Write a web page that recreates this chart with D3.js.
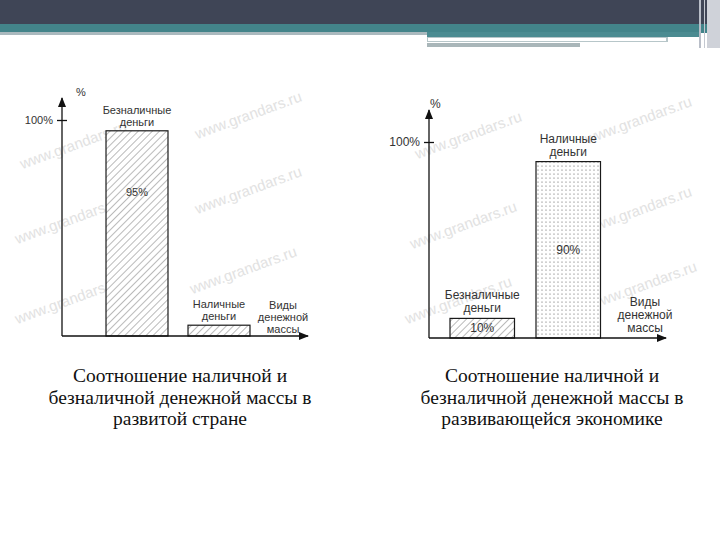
<!DOCTYPE html>
<html>
<head>
<meta charset="utf-8">
<script src="https://cdn.jsdelivr.net/npm/d3@7"></script>
<style>
  body { margin: 0; background: #fff; }
  svg { display: block; }
</style>
</head>
<body>
<script>
// data
const leftCategories = ['Безналичные деньги', 'Наличные деньги'];
const leftValues = [95, 5];
const leftValueLabels = ['95%', ''];
const rightCategories = ['Безналичные деньги', 'Наличные деньги'];
const rightValues = [10, 90];
const rightValueLabels = ['10%', '90%'];
const rightFills = ['hatch', 'dots'];
const yTicks = [100];
const xAxisTitle = ['Виды', 'денежной', 'массы'];
const leftCaption = ['Соотношение наличной и', 'безналичной денежной массы в', 'развитой стране'];
const rightCaption = ['Соотношение наличной и', 'безналичной денежной массы в', 'развивающейся экономике'];
const watermark = 'www.grandars.ru';

const width = 720, height = 540;
const svg = d3.select('body').append('svg')
    .attr('width', width)
    .attr('height', height);

const defs = svg.append('defs');
defs.append('pattern')
    .attr('id', 'hatch')
    .attr('patternUnits', 'userSpaceOnUse')
    .attr('width', 5).attr('height', 5)
    .attr('patternTransform', 'rotate(45)')
  .call(p => {
      p.append('rect').attr('width', 5).attr('height', 5).attr('fill', '#fff');
      p.append('line').attr('x1', 0).attr('y1', 0).attr('x2', 0).attr('y2', 5)
        .attr('stroke', '#666').attr('stroke-width', 0.9);
  });
defs.append('pattern')
    .attr('id', 'dots')
    .attr('patternUnits', 'userSpaceOnUse')
    .attr('width', 4).attr('height', 4)
  .call(p => {
      p.append('rect').attr('width', 4).attr('height', 4).attr('fill', '#fff');
      p.append('circle').attr('cx', 2).attr('cy', 2).attr('r', 0.6).attr('fill', '#555');
  });
defs.append('marker')
    .attr('id', 'arrow')
    .attr('viewBox', '0 0 10 8')
    .attr('refX', 9).attr('refY', 4)
    .attr('markerWidth', 10).attr('markerHeight', 8)
    .attr('markerUnits', 'userSpaceOnUse')
    .attr('orient', 'auto')
  .append('path')
    .attr('d', 'M0,0L10,4L0,8Z')
    .attr('fill', '#111');

// header bands
const header = svg.append('g');
header.append('rect').attr('x', 0).attr('y', 0).attr('width', 720).attr('height', 24).attr('fill', '#3f4556');
header.append('rect').attr('x', 0).attr('y', 24).attr('width', 720).attr('height', 9).attr('fill', '#43848a');
header.append('rect').attr('x', 0).attr('y', 32).attr('width', 427).attr('height', 3).attr('fill', '#aab9be');
header.append('rect').attr('x', 427).attr('y', 32).attr('width', 272).attr('height', 5).attr('fill', '#4b8b91');
header.append('rect').attr('x', 427).attr('y', 37).attr('width', 241).attr('height', 5).attr('fill', '#b7c6c9');
header.append('rect').attr('x', 428).attr('y', 38).attr('width', 238).attr('height', 3).attr('fill', '#fff');
header.append('rect').attr('x', 427).attr('y', 43).attr('width', 153).attr('height', 4).attr('fill', '#a9b6b9');
header.append('rect').attr('x', 699).attr('y', 0).attr('width', 2).attr('height', 48).attr('fill', '#b9bec8');
header.append('rect').attr('x', 704).attr('y', 0).attr('width', 1).attr('height', 48).attr('fill', '#c4c8d0');
header.append('rect').attr('x', 707).attr('y', 0).attr('width', 13).attr('height', 48).attr('fill', '#cfd2d9');

function drawChart(opts) {
    const g = svg.append('g');
    const x = d3.scaleBand()
        .domain(opts.categories)
        .range(opts.xRange)
        .paddingInner(opts.pad)
        .paddingOuter(opts.pad);
    const y = d3.scaleLinear()
        .domain([0, 100])
        .range(opts.yRange);
    const x0 = opts.axisX, y0 = y(0);

    // watermarks
    g.selectAll('text.wm')
        .data(opts.marks)
        .enter()
        .append('text')
        .attr('class', 'wm')
        .attr('transform', d => `translate(${d[0]},${d[1]}) rotate(-20)`)
        .attr('text-anchor', 'middle')
        .style('font-family', 'Liberation Sans, Arial, sans-serif')
        .style('font-size', '15px')
        .attr('fill', '#e2e2e2')
        .text(watermark);

    // bars
    g.selectAll('rect.bar')
        .data(opts.values)
        .enter()
        .append('rect')
        .attr('class', 'bar')
        .attr('x', (d, i) => x(opts.categories[i]))
        .attr('y', d => y(d))
        .attr('width', x.bandwidth())
        .attr('height', d => y0 - y(d))
        .attr('fill', (d, i) => `url(#${opts.fills[i]})`)
        .attr('stroke', '#1a1a1a')
        .attr('stroke-width', 1.2);

    // axes
    g.append('line')
        .attr('x1', x0).attr('y1', y0)
        .attr('x2', x0).attr('y2', opts.yTip)
        .attr('stroke', '#111').attr('stroke-width', 1.3)
        .attr('marker-end', 'url(#arrow)');
    g.append('line')
        .attr('x1', x0).attr('y1', y0)
        .attr('x2', opts.xTip).attr('y2', y0)
        .attr('stroke', '#111').attr('stroke-width', 1.3)
        .attr('marker-end', 'url(#arrow)');

    const yAxis = d3.axisLeft(y)
        .tickValues(yTicks)
        .tickSize(5)
        .tickPadding(4)
        .tickFormat(d => d + '%');
    const ax = g.append('g')
        .attr('transform', `translate(${x0},0)`)
        .call(yAxis);
    ax.select('.domain').remove();
    ax.selectAll('.tick line').attr('x1', 5).attr('stroke', '#111').attr('stroke-width', 1.3);
    ax.selectAll('.tick text')
        .style('font-family', 'Liberation Sans, Arial, sans-serif')
        .style('font-size', opts.fs + 'px')
        .attr('fill', '#333');

    const font = t => t.style('font-family', 'Liberation Sans, Arial, sans-serif')
        .style('font-size', opts.fs + 'px')
        .attr('fill', '#333');

    g.append('text')
        .attr('x', x0 + opts.pctDx).attr('y', opts.yTip - 2)
        .call(font)
        .text('%');

    // category labels above bars
    opts.categories.forEach((c, i) => {
        const cx = x(c) + x.bandwidth() / 2;
        const top = y(opts.values[i]);
        c.split(' ').forEach((w, j) => {
            g.append('text')
                .attr('x', cx)
                .attr('y', top - opts.labelGap - (1 - j) * opts.lh)
                .attr('text-anchor', 'middle')
                .call(font)
                .text(w);
        });
        if (opts.valueLabels[i]) {
            g.append('text')
                .attr('x', cx)
                .attr('y', y(opts.values[i] * opts.labelPos[i]))
                .attr('dy', '0.35em')
                .attr('text-anchor', 'middle')
                .call(font)
                .text(opts.valueLabels[i]);
        }
    });

    g.selectAll('text.xt')
        .data(xAxisTitle)
        .enter()
        .append('text')
        .attr('class', 'xt')
        .attr('x', opts.titleX)
        .attr('y', (d, i) => y0 - opts.titleUp + i * opts.lh)
        .attr('text-anchor', 'middle')
        .call(font)
        .text(d => d);

    // caption
    g.selectAll('text.cap')
        .data(opts.caption)
        .enter()
        .append('text')
        .attr('class', 'cap')
        .attr('x', opts.capX)
        .attr('y', (d, i) => 382 + i * 21.5)
        .attr('text-anchor', 'middle')
        .style('font-family', 'Liberation Serif, Times New Roman, serif')
        .style('font-size', '19.5px')
        .attr('fill', '#111')
        .text(d => d);
}

drawChart({
    categories: leftCategories,
    values: leftValues,
    valueLabels: leftValueLabels,
    fills: ['hatch', 'hatch'],
    labelPos: [0.7, 0.5],
    xRange: [86, 270], pad: 0.244,
    yRange: [336, 120],
    axisX: 62, yTip: 98, xTip: 308,
    pctDx: 14, fs: 11, lh: 12, labelGap: 5,
    titleX: 283, titleUp: 27,
    marks: [[75, 150], [250, 120], [70, 225], [250, 195], [70, 305], [245, 275]],
    caption: leftCaption, capX: 180
});

drawChart({
    categories: rightCategories,
    values: rightValues,
    valueLabels: rightValueLabels,
    fills: rightFills,
    labelPos: [0.5, 0.5],
    xRange: [428.5, 622], pad: 0.25,
    yRange: [338, 142],
    axisX: 429, yTip: 110, xTip: 666,
    pctDx: 1, fs: 12, lh: 13, labelGap: 6,
    titleX: 645, titleUp: 32,
    marks: [[470, 140], [640, 125], [465, 230], [640, 215], [460, 305], [645, 290]],
    caption: rightCaption, capX: 552
});
</script>
</body>
</html>
